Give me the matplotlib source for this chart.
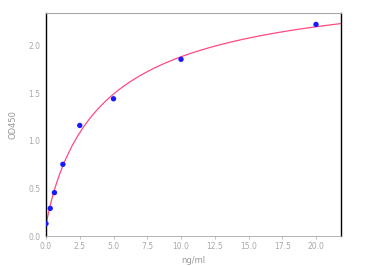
import numpy as np
import matplotlib
matplotlib.use("Agg")
import matplotlib.pyplot as plt

conc = [0.0, 0.3125, 0.625, 1.25, 2.5, 5.0, 10.0, 20.0]
od = [0.13, 0.29, 0.455, 0.752, 1.16, 1.44, 1.854, 2.22]
xticks = [0.0, 2.5, 5.0, 7.5, 10.0, 12.5, 15.0, 17.5, 20.0]
yticks = [0.0, 0.5, 1.0, 1.5, 2.0]
xlabel = "ng/ml"
ylabel = "OD450"

x = np.array(conc)
y = np.array(od)

def f(p, xx):
    a, d, c, b = p
    return d + (a - d) / (1.0 + (np.maximum(xx, 1e-12) / c) ** b)

# Levenberg-Marquardt 4PL fit
p = np.array([0.12, 2.8, 5.0, 0.9])
lam = 1e-2
def resid(p):
    return f(p, x) - y
for _ in range(500):
    r = resid(p)
    J = np.zeros((len(x), 4))
    for i in range(4):
        dp = np.zeros(4); dp[i] = 1e-6 * max(abs(p[i]), 1e-3)
        J[:, i] = (f(p + dp, x) - f(p, x)) / dp[i]
    A = J.T @ J
    g = J.T @ r
    step = np.linalg.solve(A + lam * np.diag(np.diag(A)), -g)
    pn = p + step
    if pn[2] > 0 and np.sum(resid(pn) ** 2) < np.sum(r ** 2):
        p = pn; lam *= 0.5
    else:
        lam *= 3

fig = plt.figure(figsize=(3.81, 2.66), dpi=100)
ax = fig.add_axes([46/381, 30/266, 295/381, 223/266])
xs = np.linspace(0, 21.9, 400)
ax.plot(xs, f(p, xs), color="#ff4a80", lw=0.9, zorder=2)
ax.scatter(conc, od, s=15, color="#1a1aff", zorder=3, edgecolors="none")

ax.set_xlim(0, 21.85)
ax.set_ylim(0, 2.34)
ax.set_xticks(xticks)
ax.set_yticks(yticks)
ax.set_xticklabels([f"{v:.1f}" for v in xticks])
ax.set_yticklabels([f"{v:.1f}" for v in yticks])
ax.tick_params(labelsize=5.5, colors="#a8a8a8", length=2, width=0.5, pad=2)
ax.tick_params(axis="y", length=0, pad=4)
ax.set_xlabel(xlabel, fontsize=6, color="#999999", labelpad=4)
ax.set_ylabel(ylabel, fontsize=6, color="#999999", labelpad=8)
ax.spines["left"].set_color("black"); ax.spines["left"].set_linewidth(1.0)
ax.spines["right"].set_color("black"); ax.spines["right"].set_linewidth(1.0)
ax.spines["top"].set_color("#a8a8a8"); ax.spines["top"].set_linewidth(0.8)
ax.spines["bottom"].set_color("#a8a8a8"); ax.spines["bottom"].set_linewidth(0.6)

fig.savefig("out.png", dpi=100)
